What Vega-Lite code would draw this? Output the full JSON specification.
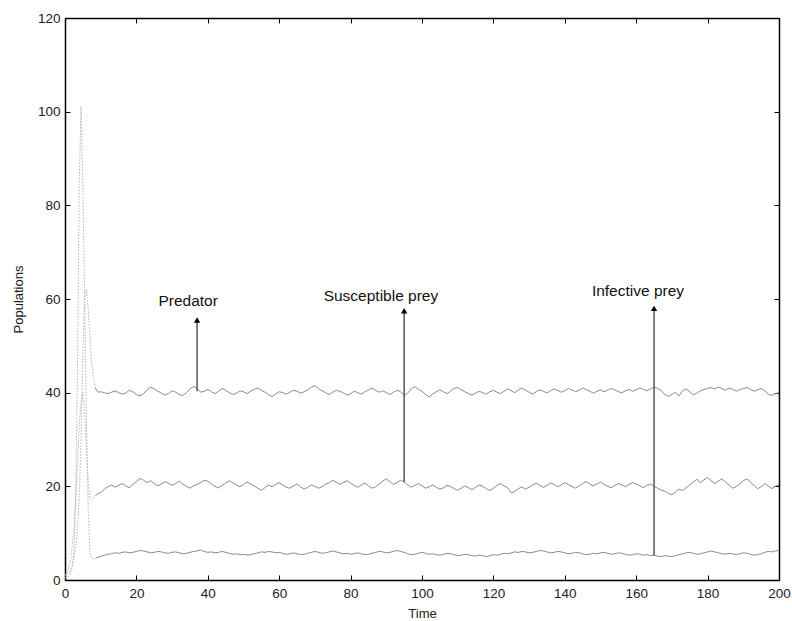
{
  "$schema": "https://vega.github.io/schema/vega-lite/v6.json",
  "width": 714,
  "height": 562,
  "autosize": "none",
  "padding": {"left": 65, "top": 18, "right": 13, "bottom": 41},
  "background": "white",
  "config": {
    "view": {"stroke": null},
    "font": "Liberation Sans",
    "axis": {
      "domainColor": "black",
      "domainWidth": 1.5,
      "tickColor": "black",
      "tickSize": -5,
      "labelFont": "Liberation Sans",
      "labelFontSize": 13.5,
      "labelColor": "#222",
      "titleFont": "Liberation Sans",
      "titleFontSize": 13,
      "titleFontWeight": "normal",
      "titleColor": "#222",
      "grid": false
    }
  },
  "datasets": {
    "populations": [
      {"time": 0, "Predator": 1.0, "Susceptible": 1.0, "Infective": 0.5},
      {"time": 0.5, "Predator": 1.2, "Susceptible": 1.5, "Infective": 0.6},
      {"time": 1, "Predator": 1.5, "Susceptible": 2.5, "Infective": 0.8},
      {"time": 1.5, "Predator": 2.0, "Susceptible": 4.0, "Infective": 1.2},
      {"time": 2, "Predator": 3.0, "Susceptible": 7.0, "Infective": 2.5},
      {"time": 2.5, "Predator": 4.5, "Susceptible": 11.0, "Infective": 6.0},
      {"time": 3, "Predator": 7.0, "Susceptible": 17.0, "Infective": 18.0},
      {"time": 3.5, "Predator": 11.0, "Susceptible": 25.0, "Infective": 45.0},
      {"time": 4, "Predator": 18.0, "Susceptible": 33.0, "Infective": 85.0},
      {"time": 4.5, "Predator": 30.0, "Susceptible": 38.0, "Infective": 101.0},
      {"time": 5, "Predator": 48.0, "Susceptible": 40.0, "Infective": 85.0},
      {"time": 5.5, "Predator": 60.0, "Susceptible": 36.0, "Infective": 60.0},
      {"time": 6, "Predator": 62.0, "Susceptible": 28.0, "Infective": 35.0},
      {"time": 6.5, "Predator": 58.0, "Susceptible": 21.0, "Infective": 15.0},
      {"time": 7, "Predator": 52.0, "Susceptible": 17.5, "Infective": 6.0},
      {"time": 7.5, "Predator": 46.0, "Susceptible": 17.2, "Infective": 4.6},
      {"time": 8, "Predator": 43.0, "Susceptible": 17.6, "Infective": 4.5},
      {"time": 8.5, "Predator": 41.0, "Susceptible": 18.0, "Infective": 4.6},
      {"time": 9, "Predator": 40.3, "Susceptible": 18.3, "Infective": 4.8},
      {"time": 9.5, "Predator": 40.1, "Susceptible": 18.5, "Infective": 4.9},
      {"time": 10, "Predator": 40.2, "Susceptible": 18.6, "Infective": 5.0},
      {"time": 11, "Predator": 40.0, "Susceptible": 19.4, "Infective": 5.3},
      {"time": 12, "Predator": 39.8, "Susceptible": 19.9, "Infective": 5.5},
      {"time": 13, "Predator": 40.1, "Susceptible": 20.3, "Infective": 5.6},
      {"time": 14, "Predator": 40.4, "Susceptible": 19.8, "Infective": 5.8},
      {"time": 15, "Predator": 40.0, "Susceptible": 20.2, "Infective": 5.7},
      {"time": 16, "Predator": 39.7, "Susceptible": 20.6, "Infective": 5.9},
      {"time": 17, "Predator": 39.9, "Susceptible": 20.1, "Infective": 6.0},
      {"time": 18, "Predator": 40.5, "Susceptible": 19.7, "Infective": 5.8},
      {"time": 19, "Predator": 40.2, "Susceptible": 20.4, "Infective": 5.9},
      {"time": 20, "Predator": 39.6, "Susceptible": 21.0, "Infective": 6.1},
      {"time": 21, "Predator": 39.3, "Susceptible": 21.7, "Infective": 6.3},
      {"time": 22, "Predator": 39.8, "Susceptible": 21.3, "Infective": 6.2},
      {"time": 23, "Predator": 40.6, "Susceptible": 20.8, "Infective": 6.0},
      {"time": 24, "Predator": 41.2, "Susceptible": 21.2, "Infective": 5.8},
      {"time": 25, "Predator": 40.8, "Susceptible": 20.6, "Infective": 5.9},
      {"time": 26, "Predator": 40.3, "Susceptible": 20.1, "Infective": 6.1},
      {"time": 27, "Predator": 39.9, "Susceptible": 20.5, "Infective": 6.0},
      {"time": 28, "Predator": 39.5, "Susceptible": 21.0, "Infective": 5.8},
      {"time": 29, "Predator": 39.8, "Susceptible": 20.7, "Infective": 5.7},
      {"time": 30, "Predator": 40.4, "Susceptible": 20.2, "Infective": 5.9},
      {"time": 31, "Predator": 40.1, "Susceptible": 20.6, "Infective": 6.0},
      {"time": 32, "Predator": 39.6, "Susceptible": 21.1, "Infective": 5.8},
      {"time": 33, "Predator": 39.4, "Susceptible": 20.5, "Infective": 5.6},
      {"time": 34, "Predator": 40.0, "Susceptible": 20.0, "Infective": 5.7},
      {"time": 35, "Predator": 40.8, "Susceptible": 19.6, "Infective": 5.9},
      {"time": 36, "Predator": 41.3, "Susceptible": 20.1, "Infective": 6.1},
      {"time": 37, "Predator": 40.9, "Susceptible": 20.4, "Infective": 6.2},
      {"time": 38, "Predator": 40.1, "Susceptible": 20.8, "Infective": 6.4},
      {"time": 39, "Predator": 40.3, "Susceptible": 21.3, "Infective": 6.1},
      {"time": 40, "Predator": 40.7, "Susceptible": 21.1, "Infective": 5.9},
      {"time": 41, "Predator": 40.2, "Susceptible": 20.5, "Infective": 6.0},
      {"time": 42, "Predator": 39.8, "Susceptible": 20.0, "Infective": 5.8},
      {"time": 43, "Predator": 40.3, "Susceptible": 19.7, "Infective": 5.9},
      {"time": 44, "Predator": 40.9, "Susceptible": 20.2, "Infective": 6.1},
      {"time": 45, "Predator": 40.5, "Susceptible": 20.7, "Infective": 5.9},
      {"time": 46, "Predator": 40.0, "Susceptible": 21.2, "Infective": 5.7},
      {"time": 47, "Predator": 39.6, "Susceptible": 20.8, "Infective": 5.5},
      {"time": 48, "Predator": 39.9, "Susceptible": 20.3, "Infective": 5.6},
      {"time": 49, "Predator": 40.4, "Susceptible": 19.9, "Infective": 5.4},
      {"time": 50, "Predator": 40.2, "Susceptible": 20.4, "Infective": 5.5},
      {"time": 51, "Predator": 39.8, "Susceptible": 20.9, "Infective": 5.3},
      {"time": 52, "Predator": 40.3, "Susceptible": 20.5, "Infective": 5.4},
      {"time": 53, "Predator": 40.7, "Susceptible": 20.1, "Infective": 5.6},
      {"time": 54, "Predator": 41.0, "Susceptible": 19.6, "Infective": 5.8},
      {"time": 55, "Predator": 40.5, "Susceptible": 19.2, "Infective": 6.0},
      {"time": 56, "Predator": 40.1, "Susceptible": 19.7, "Infective": 5.9},
      {"time": 57, "Predator": 39.6, "Susceptible": 20.3, "Infective": 6.1},
      {"time": 58, "Predator": 39.2, "Susceptible": 19.9, "Infective": 6.0},
      {"time": 59, "Predator": 39.7, "Susceptible": 20.4, "Infective": 5.8},
      {"time": 60, "Predator": 40.2, "Susceptible": 20.8, "Infective": 5.9},
      {"time": 61, "Predator": 40.0, "Susceptible": 20.3, "Infective": 5.7},
      {"time": 62, "Predator": 39.7, "Susceptible": 19.8, "Infective": 5.5},
      {"time": 63, "Predator": 40.1, "Susceptible": 19.6, "Infective": 5.6},
      {"time": 64, "Predator": 40.5, "Susceptible": 20.1, "Infective": 5.8},
      {"time": 65, "Predator": 40.3, "Susceptible": 20.5, "Infective": 5.6},
      {"time": 66, "Predator": 39.9, "Susceptible": 19.9, "Infective": 5.4},
      {"time": 67, "Predator": 40.2, "Susceptible": 19.4, "Infective": 5.5},
      {"time": 68, "Predator": 40.6, "Susceptible": 19.8, "Infective": 5.7},
      {"time": 69, "Predator": 41.2, "Susceptible": 20.3, "Infective": 5.9},
      {"time": 70, "Predator": 41.5, "Susceptible": 20.0, "Infective": 6.1},
      {"time": 71, "Predator": 40.9, "Susceptible": 19.6, "Infective": 5.9},
      {"time": 72, "Predator": 40.4, "Susceptible": 19.9, "Infective": 5.7},
      {"time": 73, "Predator": 40.0, "Susceptible": 20.4, "Infective": 5.8},
      {"time": 74, "Predator": 39.6, "Susceptible": 20.8, "Infective": 6.0},
      {"time": 75, "Predator": 40.1, "Susceptible": 21.3, "Infective": 6.2},
      {"time": 76, "Predator": 40.5, "Susceptible": 20.9, "Infective": 6.0},
      {"time": 77, "Predator": 40.3, "Susceptible": 20.4, "Infective": 5.8},
      {"time": 78, "Predator": 39.9, "Susceptible": 20.8, "Infective": 5.6},
      {"time": 79, "Predator": 39.5, "Susceptible": 21.2, "Infective": 5.7},
      {"time": 80, "Predator": 39.8, "Susceptible": 20.7, "Infective": 5.5},
      {"time": 81, "Predator": 40.3, "Susceptible": 20.2, "Infective": 5.6},
      {"time": 82, "Predator": 40.0, "Susceptible": 19.8, "Infective": 5.8},
      {"time": 83, "Predator": 39.7, "Susceptible": 20.3, "Infective": 5.6},
      {"time": 84, "Predator": 40.2, "Susceptible": 20.7, "Infective": 5.4},
      {"time": 85, "Predator": 40.6, "Susceptible": 20.1, "Infective": 5.5},
      {"time": 86, "Predator": 41.0, "Susceptible": 19.6, "Infective": 5.7},
      {"time": 87, "Predator": 40.5, "Susceptible": 19.9, "Infective": 5.9},
      {"time": 88, "Predator": 40.1, "Susceptible": 20.5, "Infective": 6.1},
      {"time": 89, "Predator": 40.4, "Susceptible": 21.1, "Infective": 6.0},
      {"time": 90, "Predator": 40.0, "Susceptible": 21.6, "Infective": 5.8},
      {"time": 91, "Predator": 39.6, "Susceptible": 21.0, "Infective": 5.9},
      {"time": 92, "Predator": 40.1, "Susceptible": 20.4, "Infective": 6.1},
      {"time": 93, "Predator": 40.5, "Susceptible": 20.8, "Infective": 6.3},
      {"time": 94, "Predator": 40.2, "Susceptible": 21.3, "Infective": 6.1},
      {"time": 95, "Predator": 39.4, "Susceptible": 20.9, "Infective": 5.9},
      {"time": 96, "Predator": 39.9, "Susceptible": 20.3, "Infective": 5.6},
      {"time": 97, "Predator": 40.8, "Susceptible": 19.8, "Infective": 5.4},
      {"time": 98, "Predator": 41.3, "Susceptible": 20.2, "Infective": 5.5},
      {"time": 99, "Predator": 40.7, "Susceptible": 20.6, "Infective": 5.7},
      {"time": 100, "Predator": 40.3, "Susceptible": 20.1, "Infective": 5.9},
      {"time": 101, "Predator": 39.6, "Susceptible": 19.6, "Infective": 5.7},
      {"time": 102, "Predator": 39.1, "Susceptible": 19.9, "Infective": 5.5},
      {"time": 103, "Predator": 39.7, "Susceptible": 20.3, "Infective": 5.6},
      {"time": 104, "Predator": 40.2, "Susceptible": 19.8, "Infective": 5.4},
      {"time": 105, "Predator": 40.6, "Susceptible": 19.4, "Infective": 5.3},
      {"time": 106, "Predator": 40.2, "Susceptible": 19.7, "Infective": 5.5},
      {"time": 107, "Predator": 39.8, "Susceptible": 20.2, "Infective": 5.7},
      {"time": 108, "Predator": 40.3, "Susceptible": 20.0, "Infective": 5.6},
      {"time": 109, "Predator": 40.9, "Susceptible": 19.5, "Infective": 5.4},
      {"time": 110, "Predator": 41.1, "Susceptible": 19.2, "Infective": 5.2},
      {"time": 111, "Predator": 40.6, "Susceptible": 19.6, "Infective": 5.3},
      {"time": 112, "Predator": 40.2, "Susceptible": 20.1, "Infective": 5.5},
      {"time": 113, "Predator": 39.8, "Susceptible": 19.7, "Infective": 5.4},
      {"time": 114, "Predator": 39.5, "Susceptible": 19.3, "Infective": 5.2},
      {"time": 115, "Predator": 39.9, "Susceptible": 19.8, "Infective": 5.1},
      {"time": 116, "Predator": 40.3, "Susceptible": 20.3, "Infective": 5.3},
      {"time": 117, "Predator": 40.0, "Susceptible": 20.0, "Infective": 5.2},
      {"time": 118, "Predator": 39.7, "Susceptible": 19.5, "Infective": 5.0},
      {"time": 119, "Predator": 40.2, "Susceptible": 19.1, "Infective": 5.2},
      {"time": 120, "Predator": 40.5, "Susceptible": 19.6, "Infective": 5.4},
      {"time": 121, "Predator": 40.1, "Susceptible": 20.2, "Infective": 5.3},
      {"time": 122, "Predator": 39.8, "Susceptible": 20.6, "Infective": 5.5},
      {"time": 123, "Predator": 40.3, "Susceptible": 20.1, "Infective": 5.7},
      {"time": 124, "Predator": 40.8, "Susceptible": 19.7, "Infective": 5.6},
      {"time": 125, "Predator": 40.4, "Susceptible": 18.6, "Infective": 5.8},
      {"time": 126, "Predator": 40.0, "Susceptible": 18.9, "Infective": 6.0},
      {"time": 127, "Predator": 40.6, "Susceptible": 19.5, "Infective": 5.9},
      {"time": 128, "Predator": 41.0, "Susceptible": 19.9, "Infective": 6.1},
      {"time": 129, "Predator": 40.5, "Susceptible": 19.4, "Infective": 6.0},
      {"time": 130, "Predator": 40.1, "Susceptible": 19.8, "Infective": 5.8},
      {"time": 131, "Predator": 39.7, "Susceptible": 20.3, "Infective": 5.9},
      {"time": 132, "Predator": 40.2, "Susceptible": 20.7, "Infective": 6.1},
      {"time": 133, "Predator": 40.6, "Susceptible": 20.2, "Infective": 6.3},
      {"time": 134, "Predator": 40.3, "Susceptible": 19.8, "Infective": 6.2},
      {"time": 135, "Predator": 39.9, "Susceptible": 20.2, "Infective": 6.0},
      {"time": 136, "Predator": 40.4, "Susceptible": 20.7, "Infective": 5.8},
      {"time": 137, "Predator": 40.8, "Susceptible": 20.4, "Infective": 5.9},
      {"time": 138, "Predator": 40.5, "Susceptible": 19.9, "Infective": 6.1},
      {"time": 139, "Predator": 40.1, "Susceptible": 20.3, "Infective": 6.0},
      {"time": 140, "Predator": 40.4, "Susceptible": 20.8, "Infective": 5.8},
      {"time": 141, "Predator": 40.9, "Susceptible": 20.4, "Infective": 5.6},
      {"time": 142, "Predator": 40.6, "Susceptible": 20.0, "Infective": 5.7},
      {"time": 143, "Predator": 40.2, "Susceptible": 19.6, "Infective": 5.9},
      {"time": 144, "Predator": 40.5, "Susceptible": 20.1, "Infective": 5.8},
      {"time": 145, "Predator": 41.0, "Susceptible": 20.6, "Infective": 5.6},
      {"time": 146, "Predator": 40.7, "Susceptible": 21.0, "Infective": 5.4},
      {"time": 147, "Predator": 40.3, "Susceptible": 20.5, "Infective": 5.5},
      {"time": 148, "Predator": 39.9, "Susceptible": 20.1, "Infective": 5.7},
      {"time": 149, "Predator": 40.3, "Susceptible": 20.5, "Infective": 5.6},
      {"time": 150, "Predator": 40.6, "Susceptible": 20.9, "Infective": 5.8},
      {"time": 151, "Predator": 40.2, "Susceptible": 20.4, "Infective": 5.9},
      {"time": 152, "Predator": 40.5, "Susceptible": 20.0, "Infective": 5.7},
      {"time": 153, "Predator": 40.9, "Susceptible": 19.7, "Infective": 5.5},
      {"time": 154, "Predator": 40.6, "Susceptible": 20.2, "Infective": 5.6},
      {"time": 155, "Predator": 40.2, "Susceptible": 20.6, "Infective": 5.8},
      {"time": 156, "Predator": 40.0, "Susceptible": 20.3, "Infective": 5.7},
      {"time": 157, "Predator": 40.4, "Susceptible": 19.9, "Infective": 5.5},
      {"time": 158, "Predator": 40.7, "Susceptible": 20.4, "Infective": 5.3},
      {"time": 159, "Predator": 40.3, "Susceptible": 20.8, "Infective": 5.4},
      {"time": 160, "Predator": 40.6, "Susceptible": 20.5, "Infective": 5.6},
      {"time": 161, "Predator": 41.0, "Susceptible": 20.1, "Infective": 5.5},
      {"time": 162, "Predator": 40.7, "Susceptible": 19.7, "Infective": 5.3},
      {"time": 163, "Predator": 40.4, "Susceptible": 20.2, "Infective": 5.4},
      {"time": 164, "Predator": 40.8, "Susceptible": 20.5, "Infective": 5.2},
      {"time": 165, "Predator": 41.2, "Susceptible": 20.0, "Infective": 5.3},
      {"time": 166, "Predator": 40.9, "Susceptible": 19.6, "Infective": 5.1},
      {"time": 167, "Predator": 40.5, "Susceptible": 19.2, "Infective": 5.0},
      {"time": 168, "Predator": 39.6, "Susceptible": 19.0, "Infective": 5.2},
      {"time": 169, "Predator": 39.2, "Susceptible": 18.5, "Infective": 5.1},
      {"time": 170, "Predator": 39.6, "Susceptible": 18.2, "Infective": 5.0},
      {"time": 171, "Predator": 40.1, "Susceptible": 18.8, "Infective": 5.2},
      {"time": 172, "Predator": 39.3, "Susceptible": 19.4, "Infective": 5.4},
      {"time": 173, "Predator": 40.4, "Susceptible": 19.1, "Infective": 5.6},
      {"time": 174, "Predator": 40.8, "Susceptible": 19.7, "Infective": 5.8},
      {"time": 175, "Predator": 40.2, "Susceptible": 20.3, "Infective": 5.9},
      {"time": 176, "Predator": 39.5, "Susceptible": 20.9, "Infective": 5.7},
      {"time": 177, "Predator": 39.9, "Susceptible": 21.5, "Infective": 5.5},
      {"time": 178, "Predator": 40.4, "Susceptible": 20.8, "Infective": 5.6},
      {"time": 179, "Predator": 40.7, "Susceptible": 21.4, "Infective": 5.8},
      {"time": 180, "Predator": 40.9, "Susceptible": 21.9, "Infective": 6.0},
      {"time": 181, "Predator": 41.1, "Susceptible": 21.2, "Infective": 6.2},
      {"time": 182, "Predator": 40.8, "Susceptible": 20.6, "Infective": 6.0},
      {"time": 183, "Predator": 41.2, "Susceptible": 21.1, "Infective": 5.8},
      {"time": 184, "Predator": 40.9, "Susceptible": 21.6, "Infective": 5.6},
      {"time": 185, "Predator": 40.5, "Susceptible": 20.9, "Infective": 5.5},
      {"time": 186, "Predator": 41.0, "Susceptible": 20.3, "Infective": 5.7},
      {"time": 187, "Predator": 40.7, "Susceptible": 19.6, "Infective": 5.6},
      {"time": 188, "Predator": 40.3, "Susceptible": 19.9, "Infective": 5.4},
      {"time": 189, "Predator": 40.6, "Susceptible": 20.5, "Infective": 5.6},
      {"time": 190, "Predator": 40.9, "Susceptible": 21.2, "Infective": 5.8},
      {"time": 191, "Predator": 41.1, "Susceptible": 21.6, "Infective": 5.7},
      {"time": 192, "Predator": 40.7, "Susceptible": 20.9, "Infective": 5.5},
      {"time": 193, "Predator": 40.3, "Susceptible": 20.2, "Infective": 5.3},
      {"time": 194, "Predator": 40.6, "Susceptible": 19.5, "Infective": 5.4},
      {"time": 195, "Predator": 40.9, "Susceptible": 19.9, "Infective": 5.6},
      {"time": 196, "Predator": 40.4, "Susceptible": 20.6, "Infective": 5.9},
      {"time": 197, "Predator": 39.7, "Susceptible": 20.1, "Infective": 6.1},
      {"time": 198, "Predator": 39.4, "Susceptible": 19.5, "Infective": 6.0},
      {"time": 199, "Predator": 39.8, "Susceptible": 20.0, "Infective": 6.2},
      {"time": 200, "Predator": 40.0, "Susceptible": 20.3, "Infective": 6.3}
    ],
    "annotations": [
      {"label": "Predator", "time": 37, "from": 40.3, "to": 55.5, "labelTime": 34.5, "labelY": 59.5},
      {"label": "Susceptible prey", "time": 95, "from": 20.9, "to": 57.5, "labelTime": 88.5, "labelY": 60.6},
      {"label": "Infective prey", "time": 165, "from": 5.3, "to": 58, "labelTime": 160.5, "labelY": 61.7}
    ]
  },
  "layer": [
    {
      "layer": [
        {
          "data": {"name": "populations"},
          "transform": [
            {"filter": "datum.time >= 8.5"},
            {"fold": ["Predator", "Susceptible", "Infective"], "as": ["species", "population"]}
          ],
          "mark": {"type": "line", "color": "#8a8a8a", "strokeWidth": 1, "interpolate": "linear"},
          "encoding": {
            "x": {
              "field": "time", "type": "quantitative", "title": "Time",
              "scale": {"domain": [0, 200], "nice": false, "zero": false},
              "axis": {"orient": "bottom", "title": "Time", "values": [0, 20, 40, 60, 80, 100, 120, 140, 160, 180, 200], "labelPadding": 11, "titlePadding": 8, "labelFlush": false}
            },
            "y": {
              "field": "population", "type": "quantitative", "title": "Populations",
              "scale": {"domain": [0, 120], "nice": false},
              "axis": {"orient": "left", "title": "Populations", "values": [0, 20, 40, 60, 80, 100, 120], "labelPadding": 10, "titlePadding": 12}
            },
            "detail": {"field": "species"}
          }
        },
        {
          "data": {"name": "populations"},
          "transform": [
            {"filter": "datum.time <= 8.5"},
            {"fold": ["Predator", "Susceptible", "Infective"], "as": ["species", "population"]}
          ],
          "mark": {"type": "line", "color": "#b5b5b5", "strokeWidth": 1, "strokeDash": [1.5, 1.5], "interpolate": "linear"},
          "encoding": {
            "x": {"field": "time", "type": "quantitative"},
            "y": {"field": "population", "type": "quantitative"},
            "detail": {"field": "species"}
          }
        },
        {
          "data": {"name": "annotations"},
          "mark": {"type": "rule", "color": "#555", "strokeWidth": 1.5},
          "encoding": {
            "x": {"field": "time", "type": "quantitative"},
            "y": {"field": "from", "type": "quantitative"},
            "y2": {"field": "to"}
          }
        },
        {
          "data": {"name": "annotations"},
          "mark": {"type": "point", "shape": "triangle-up", "filled": true, "color": "black", "size": 40, "opacity": 1},
          "encoding": {
            "x": {"field": "time", "type": "quantitative"},
            "y": {"field": "to", "type": "quantitative"}
          }
        },
        {
          "data": {"name": "annotations"},
          "mark": {"type": "text", "font": "Liberation Sans", "fontSize": 15.5, "color": "#111", "align": "center", "baseline": "middle"},
          "encoding": {
            "x": {"field": "labelTime", "type": "quantitative"},
            "y": {"field": "labelY", "type": "quantitative"},
            "text": {"field": "label"}
          }
        }
      ]
    },
    {
      "data": {"name": "annotations"},
      "mark": {"type": "rule", "opacity": 0},
      "encoding": {
        "x": {"field": "time", "type": "quantitative", "axis": {"orient": "top", "title": null, "labels": false, "values": [0, 20, 40, 60, 80, 100, 120, 140, 160, 180, 200]}},
        "y": {"field": "from", "type": "quantitative", "axis": {"orient": "right", "title": null, "labels": false, "values": [0, 20, 40, 60, 80, 100, 120]}}
      }
    }
  ],
  "resolve": {"axis": {"x": "independent", "y": "independent"}}
}
